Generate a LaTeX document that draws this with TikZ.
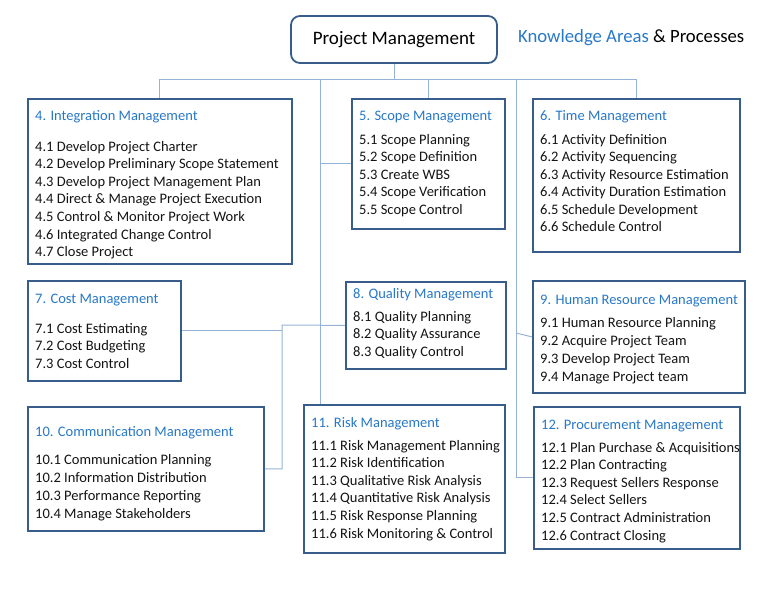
\documentclass[tikz,border=0pt]{standalone}
\usepackage{fontspec}
\setmainfont{Carlito}
\usepackage{xcolor}
\definecolor{boxline}{RGB}{56,93,138}
\definecolor{linkline}{RGB}{149,179,215}
\definecolor{areablue}{RGB}{40,120,200}
\definecolor{itemtext}{RGB}{20,20,20}

\begin{document}
\begin{tikzpicture}[x=1pt, y=-1pt]

        % Styles (a list node sits on the baseline of its last line)
        \tikzset{
            area/.style={draw=boxline, line width=1.8pt, fill=white, anchor=north west, inner sep=0pt},
            areatitle/.style={anchor=base west, inner sep=0pt, text=areablue, font=\fontsize{14.5}{17.6}\selectfont},
            items/.style={anchor=base west, inner sep=0pt, align=left, text=itemtext, font=\fontsize{14.5}{#1}\selectfont},
            items/.default=17.6,
            link/.style={draw=linkline, line width=1pt}
        }

        \useasboundingbox (0,0) rectangle (768,596);

        % =================================================================
        % 1. ROOT AND HEADING
        % =================================================================

        \node[draw=boxline, line width=1.8pt, rounded corners=9pt, minimum width=206pt, minimum height=47pt,
              font=\fontsize{19}{22}\selectfont] (root) at (394,39.5) {Project Management};
        \node[anchor=base west, inner sep=0pt, font=\fontsize{18.7}{22}\selectfont] (heading) at (518,43)
              {\textcolor{areablue}{Knowledge Areas} \& Processes};

        % =================================================================
        % 2. KNOWLEDGE AREA BOXES
        % =================================================================

        % Integration
        \node[area, minimum width=264pt, minimum height=165pt] (integ) at (27,98) {};
        \node[areatitle] (integ-t) at (35,121) {4. Integration Management};
        \node[items] (integ-l) at (35,{151+6*17.6}) {4.1 Develop Project Charter\\ 4.2 Develop Preliminary Scope Statement\\
              4.3 Develop Project Management Plan\\ 4.4 Direct \& Manage Project Execution\\
              4.5 Control \& Monitor Project Work\\ 4.6 Integrated Change Control\\ 4.7 Close Project};

        % Scope
        \node[area, minimum width=153pt, minimum height=130pt] (scope) at (351,98) {};
        \node[areatitle] (scope-t) at (359,121) {5. Scope Management};
        \node[items] (scope-l) at (359,{144+4*17.6}) {5.1 Scope Planning\\ 5.2 Scope Definition\\ 5.3 Create WBS\\
              5.4 Scope Verification\\ 5.5 Scope Control};

        % Time
        \node[area, minimum width=207pt, minimum height=153pt] (time) at (532,98) {};
        \node[areatitle] (time-t) at (540,121) {6. Time Management};
        \node[items] (time-l) at (540,{144+5*17.6}) {6.1 Activity Definition\\ 6.2 Activity Sequencing\\
              6.3 Activity Resource Estimation\\ 6.4 Activity Duration Estimation\\
              6.5 Schedule Development\\ 6.6 Schedule Control};

        % Cost
        \node[area, minimum width=153pt, minimum height=100pt] (cost) at (27,280) {};
        \node[areatitle] (cost-t) at (35,303) {7. Cost Management};
        \node[items] (cost-l) at (35,{333+2*17.6}) {7.1 Cost Estimating\\ 7.2 Cost Budgeting\\ 7.3 Cost Control};

        % Quality
        \node[area, minimum width=160pt, minimum height=87pt] (quality) at (345,281) {};
        \node[areatitle] (quality-t) at (353,298) {8. Quality Management};
        \node[items] (quality-l) at (353,{321+2*17.6}) {8.1 Quality Planning\\ 8.2 Quality Assurance\\ 8.3 Quality Control};

        % Human Resource
        \node[area, minimum width=212pt, minimum height=112pt] (hr) at (532,280) {};
        \node[areatitle] (hr-t) at (540,304) {9. Human Resource Management};
        \node[items=18] (hr-l) at (540,{327+3*18}) {9.1 Human Resource Planning\\ 9.2 Acquire Project Team\\
              9.3 Develop Project Team\\ 9.4 Manage Project team};

        % Communication
        \node[area, minimum width=236pt, minimum height=124pt] (comm) at (27,406) {};
        \node[areatitle] (comm-t) at (35,436) {10. Communication Management};
        \node[items=18] (comm-l) at (35,{464+3*18}) {10.1 Communication Planning\\ 10.2 Information Distribution\\
              10.3 Performance Reporting\\ 10.4 Manage Stakeholders};

        % Risk
        \node[area, minimum width=201pt, minimum height=148pt] (risk) at (303,404) {};
        \node[areatitle] (risk-t) at (311,427) {11. Risk Management};
        \node[items] (risk-l) at (311,{450+5*17.6}) {11.1 Risk Management Planning\\ 11.2 Risk Identification\\
              11.3 Qualitative Risk Analysis\\ 11.4 Quantitative Risk Analysis\\
              11.5 Risk Response Planning\\ 11.6 Risk Monitoring \& Control};

        % Procurement
        \node[area, minimum width=206pt, minimum height=142pt] (proc) at (533,406) {};
        \node[areatitle] (proc-t) at (541,429) {12. Procurement Management};
        \node[items] (proc-l) at (541,{452+5*17.6}) {12.1 Plan Purchase \& Acquisitions\\ 12.2 Plan Contracting\\
              12.3 Request Sellers Response\\ 12.4 Select Sellers\\
              12.5 Contract Administration\\ 12.6 Contract Closing};

        % =================================================================
        % 3. CONNECTORS
        % =================================================================

        \coordinate (bus) at (0,80);
        \coordinate (spineL) at (320,80);
        \coordinate (spineR) at (516,80);
        \coordinate (hrjoin) at (516,333);
        \coordinate (cqjoin) at (282,325);

        \draw[link] (root.south) -- (root.south |- bus);
        \draw[link] (integ.north) -- (integ.north |- bus) -- (time.north |- bus) -- (time.north);
        \draw[link] (scope.north) -- (scope.north |- bus);
        % left spine
        \draw[link] (spineL) -- (spineL |- risk.north);
        \draw[link] (spineL |- scope.west) -- (scope.west);
        % right spine
        \draw[link] (spineR) -- (spineR |- proc.west) -- (proc.west);
        \draw[link] (hrjoin) -- (hr.west);
        % cost, quality and communication
        \draw[link] (cost.east) -- (cost.east -| cqjoin);
        \draw[link] (quality.west) -- (cqjoin) -- (cqjoin |- comm.east) -- (comm.east);

    \end{tikzpicture}
\end{document}
